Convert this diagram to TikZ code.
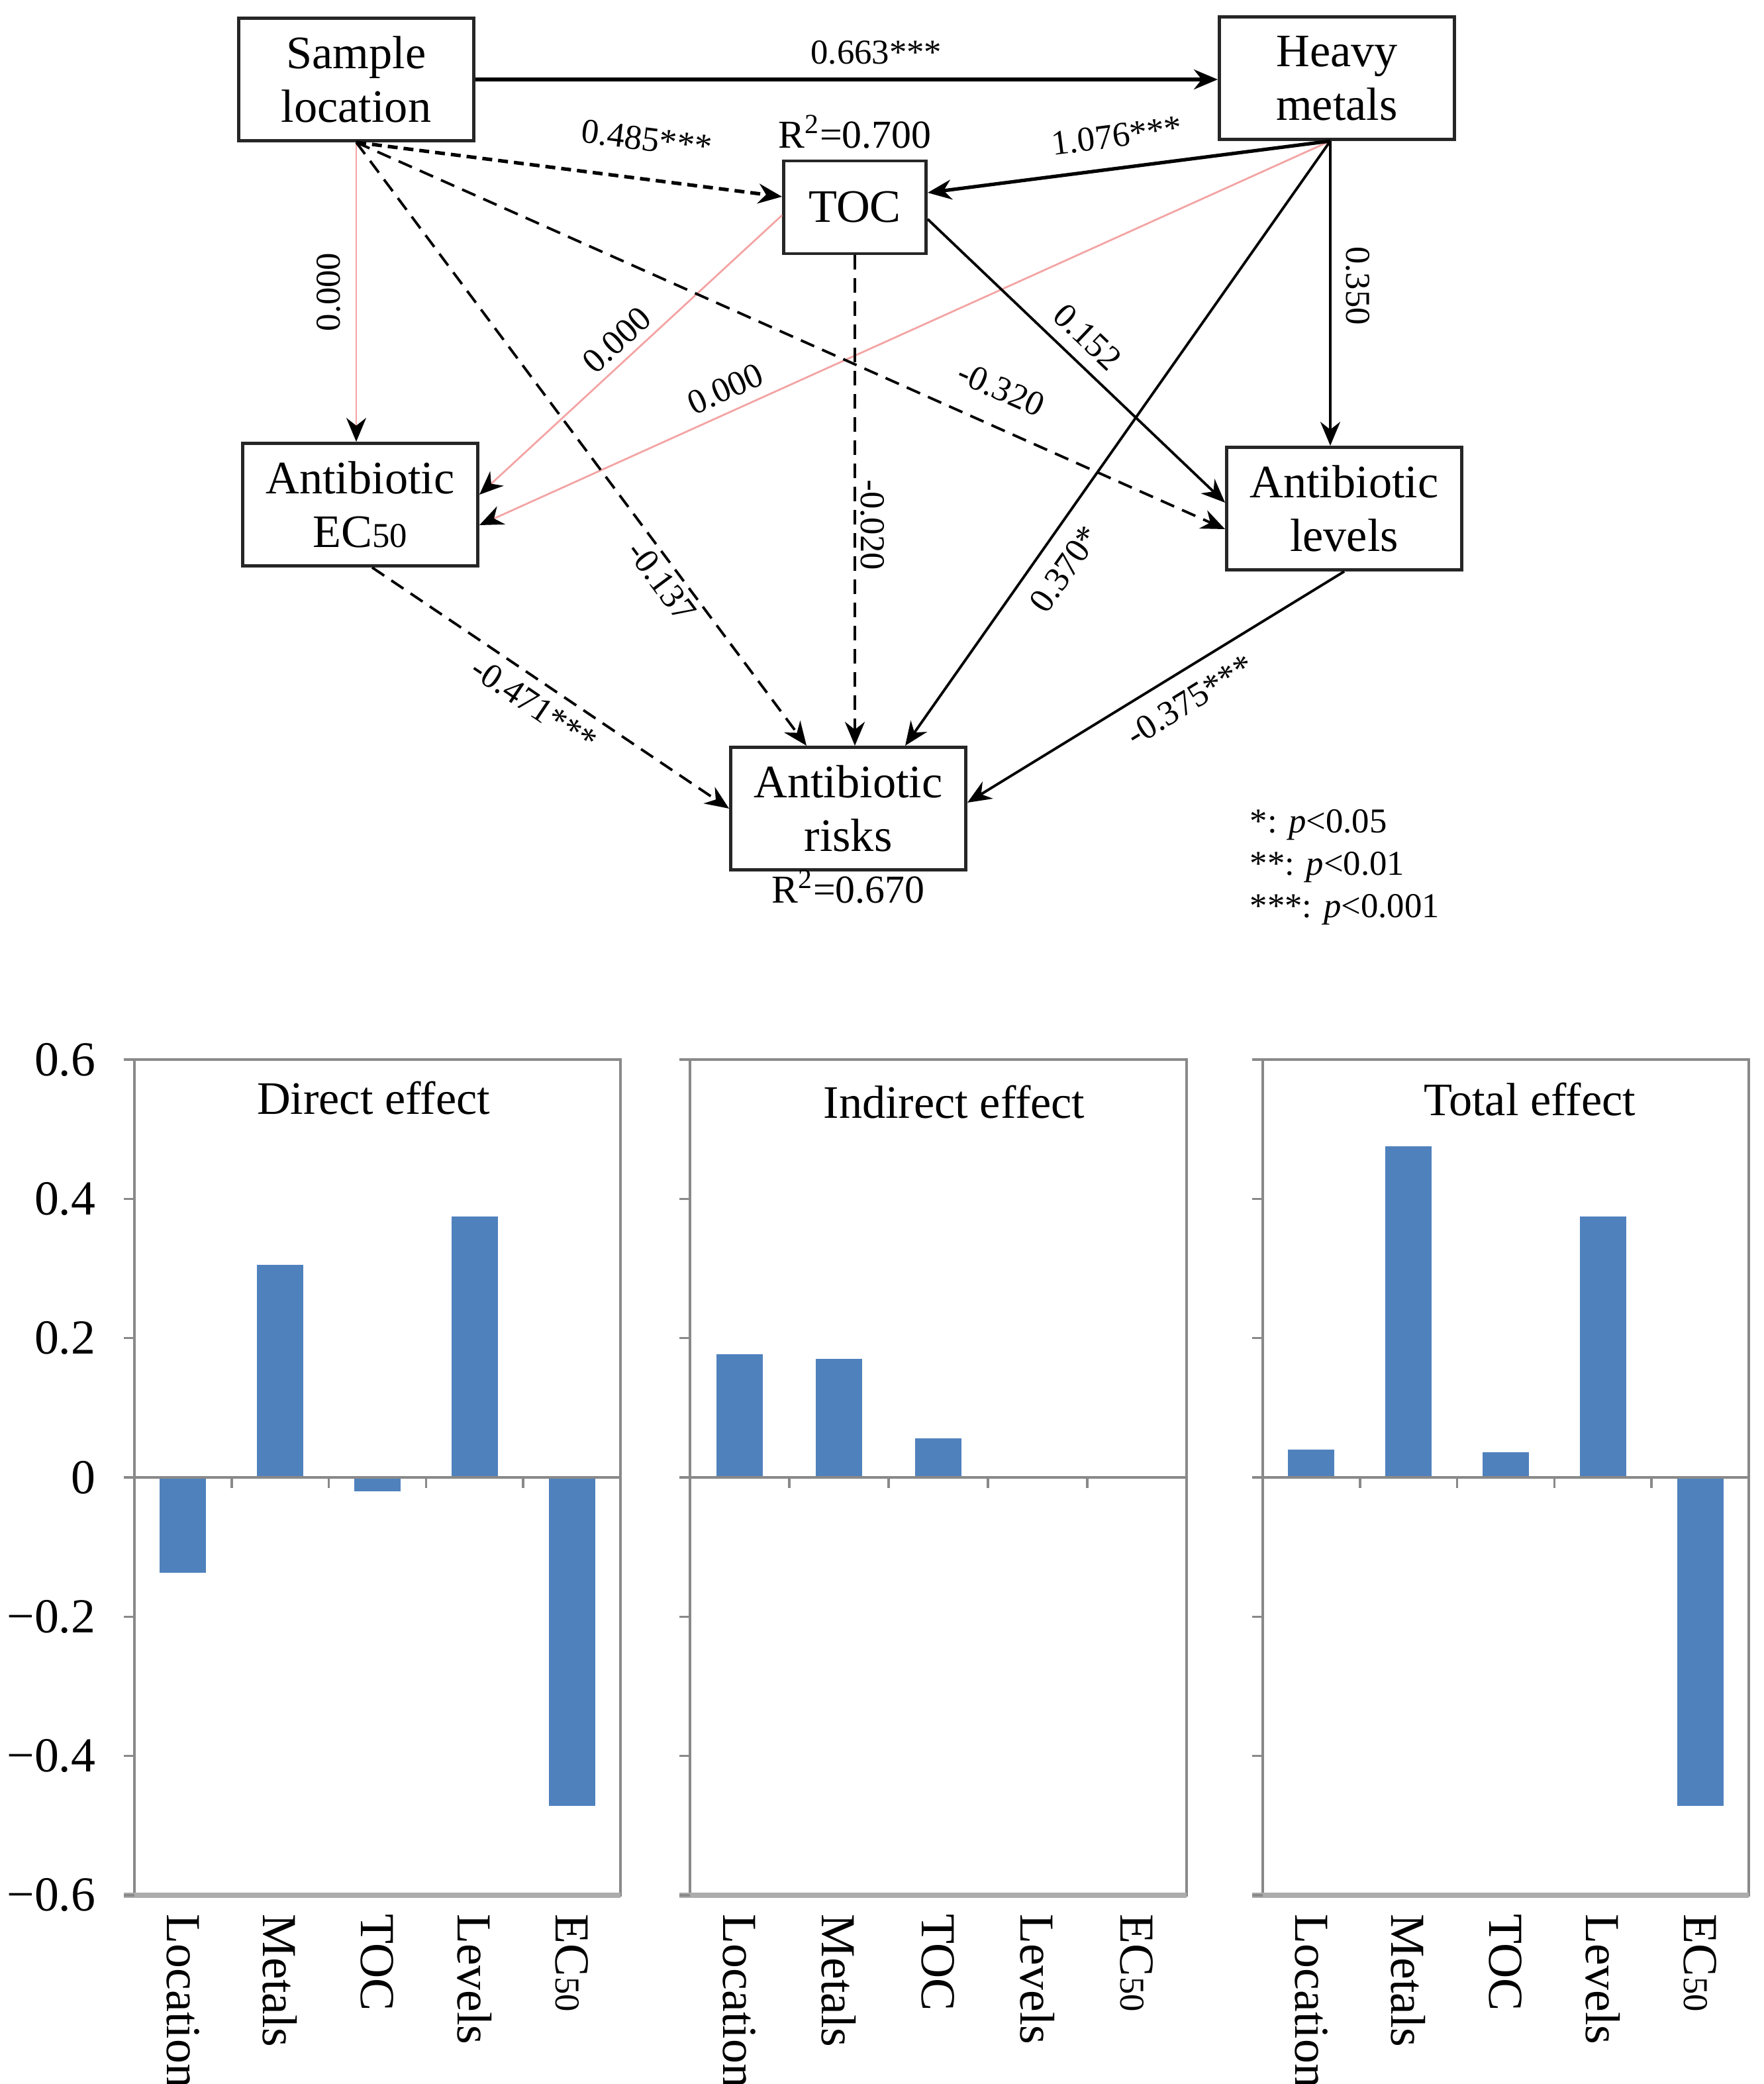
\documentclass[tikz,border=0pt]{standalone}
\usepackage{fontspec}
\setmainfont{Liberation Serif}
\usepackage{tikz}
\usetikzlibrary{shapes, arrows.meta, positioning}
\definecolor{zerolink}{RGB}{244,164,164}
\definecolor{barblue}{RGB}{79,129,189}
\definecolor{framegray}{RGB}{137,137,137}
\tikzstyle{block} = [draw=black!85, line width=1.4pt, fill=white, rectangle,
    align=center, inner sep=0pt, minimum height=1.85cm, minimum width=3.55cm,
    font=\fontsize{20}{23}\selectfont]
\tikzstyle{link} = [line width=1.1pt, -{Stealth[length=0.36cm, width=0.3cm]}]
\tikzstyle{weaklink} = [link, dash pattern=on 0.22cm off 0.13cm]
\tikzstyle{nulllink} = [line width=0.8pt, draw=zerolink,
    -{Stealth[length=0.36cm, width=0.3cm, color=black]}]
\tikzstyle{coef} = [font=\fontsize{15}{15}\selectfont, inner sep=2pt]
\tikzstyle{frame} = [draw=framegray, line width=1pt]
\tikzstyle{catlabel} = [rotate=-90, anchor=west, inner sep=0pt,
    font=\fontsize{21}{21}\selectfont]
\tikzstyle{paneltitle} = [font=\fontsize{20}{20}\selectfont]
\newcommand{\ecsmall}{EC{\fontsize{15}{15}\selectfont 50}}
% one effect panel: #1 = width, #2 = slot/value pairs
\newcommand{\effectpanel}[2]{%
  \foreach \i/\v in {#2}
    \fill[barblue] ({(\i+0.5)*#1/5-0.35},0) rectangle ++(0.7,\v*10.52);
  \draw[frame] (0,-6.31) rectangle (#1,6.31);
  \draw[draw=framegray!70, line width=2.4pt] (-0.16,-6.31) -- (#1,-6.31);
  \foreach \k in {-3,...,3} \draw[frame] (-0.16,\k*2.103) -- (0,\k*2.103);
  \draw[frame, line width=1.4pt] (-0.16,0) -- (#1,0);
  \foreach \k in {1,...,4} \draw[frame] (\k*#1/5,0) -- (\k*#1/5,-0.16);
  \foreach \i/\cat in {0/Location,1/Metals,2/TOC,3/Levels,4/\ecsmall}
    \node[catlabel] at ({(\i+0.5)*#1/5},-6.59) {\cat};
}

\begin{document}
\begin{tikzpicture}
    \useasboundingbox (0,0) rectangle (26.63,-31.47);

    % path model
    \node [block] (loc) at (5.38,-1.20) {Sample\\location};
    \node [block] (metal) at (20.19,-1.18) {Heavy\\metals};
    \node [block, minimum width=2.15cm, minimum height=1.40cm] (toc) at (12.91,-3.13) {TOC};
    \node [block] (ec) at (5.44,-7.62) {Antibiotic\\\ecsmall};
    \node [block] (level) at (20.30,-7.68) {Antibiotic\\levels};
    \node [block] (risk) at (12.81,-12.21) {Antibiotic\\risks};
    \node [coef, font=\fontsize{17}{17}\selectfont, above=0.08cm of toc] (tocfit) {R\textsuperscript{2}=0.700};
    \node [coef, font=\fontsize{17}{17}\selectfont, below=-0.1cm of risk] (riskfit) {R\textsuperscript{2}=0.670};
    \coordinate (locfoot) at (loc.south);
    \coordinate (metalfoot) at ([xshift=-0.1cm]metal.south);

    \draw [link, line width=1.5pt] (loc.east) -- (loc.east -| metal.west)
        node [coef, pos=0.54, above, outer sep=0.16cm] {0.663***};
    \draw [weaklink, line width=1.5pt, dash pattern=on 0.15cm off 0.09cm] (locfoot) -- ([yshift=0.16cm]toc.west)
        node [coef, pos=0.67, sloped, above, outer sep=0.35cm] {0.485***};
    \draw [nulllink] (locfoot) -- (locfoot |- ec.north)
        node [coef, pos=0.5, rotate=90, anchor=south, outer sep=0.17cm] {0.000};
    \draw [nulllink] ([yshift=-0.12cm]toc.west) -- ([yshift=0.15cm]ec.east)
        node [coef, pos=0.5, sloped, above, outer sep=0.06cm] {0.000};
    \draw [nulllink] (metalfoot) -- ([yshift=-0.31cm]ec.east)
        node [coef, pos=0.70, sloped, above, outer sep=0.1cm] {0.000};
    \draw [link, line width=1.5pt] (metalfoot) -- ([yshift=0.22cm]toc.east)
        node [coef, pos=0.52, sloped, above, outer sep=0.24cm] {1.076***};
    \draw [link] (metalfoot) -- (metalfoot |- level.north)
        node [coef, pos=0.475, rotate=-90, anchor=south, outer sep=0.17cm] {0.350};
    \draw [link] (metalfoot) -- ([xshift=0.86cm]risk.north)
        node [coef, pos=0.68, sloped, below, outer sep=0.19cm] {0.370*};
    \draw [link] ([yshift=-0.18cm]toc.east) -- ([yshift=0.09cm]level.west)
        node [coef, pos=0.48, sloped, above, outer sep=0.13cm] {0.152};
    \draw [weaklink] (locfoot) -- ([yshift=-0.31cm]level.west)
        node [coef, pos=0.725, sloped, above, outer sep=0.31cm] {-0.320};
    \draw [weaklink] (locfoot) -- ([xshift=-0.63cm]risk.north)
        node [coef, pos=0.71, sloped, below] {-0.137};
    \draw [weaklink] (toc.south) -- (toc.south |- risk.north)
        node [coef, pos=0.55, rotate=-90, anchor=south] {-0.020};
    \draw [weaklink] ([xshift=0.18cm]ec.south) -- (risk.west)
        node [coef, pos=0.49, sloped, below, outer sep=0.1cm] {-0.471***};
    \draw [link] (level.south) -- ([yshift=0.09cm]risk.east)
        node [coef, pos=0.45, sloped, below, outer sep=0.19cm] {-0.375***};

    \node [coef, anchor=west] (sig1) at (18.80,-12.46) {*: \textit{p}<0.05};
    \node [coef, anchor=west] (sig2) at (18.80,-13.10) {**: \textit{p}<0.01};
    \node [coef, anchor=west] (sig3) at (18.80,-13.74) {***: \textit{p}<0.001};

    % effect bars
    \begin{scope}[shift={(2.03,-22.31)}]
        \effectpanel{7.34}{0/-0.137, 1/0.305, 2/-0.020, 3/0.375, 4/-0.471}
        \foreach \k/\lab in {3/0.6, 2/0.4, 1/0.2, 0/0, -1/−0.2, -2/−0.4, -3/−0.6}
            \node [anchor=east, inner sep=0pt, font=\fontsize{21}{21}\selectfont] at (-0.58,\k*2.103) {\lab};
    \end{scope}
    \begin{scope}[shift={(10.42,-22.31)}]
        \effectpanel{7.50}{0/0.177, 1/0.170, 2/0.056}
    \end{scope}
    \begin{scope}[shift={(19.07,-22.31)}]
        \effectpanel{7.34}{0/0.040, 1/0.475, 2/0.036, 3/0.375, 4/-0.471}
    \end{scope}
    \node [paneltitle] (directtitle) at (5.64,-16.58) {Direct effect};
    \node [paneltitle] (indirecttitle) at (14.41,-16.64) {Indirect effect};
    \node [paneltitle] (totaltitle) at (23.10,-16.60) {Total effect};
\end{tikzpicture}
\end{document}
